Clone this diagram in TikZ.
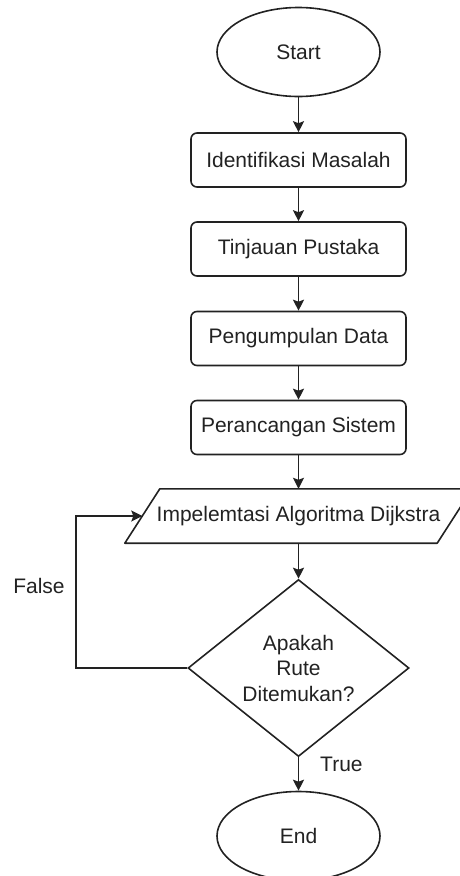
\documentclass[tikz,border=0pt]{standalone}
\usepackage{fontspec}
\setmainfont{Liberation Sans}
\usetikzlibrary{shapes.geometric,arrows.meta,calc}
\definecolor{ink}{RGB}{34,34,34}
\tikzset{
  base/.style={draw=ink, line width=1.6pt, text=ink, font=\fontsize{21}{25.5}\selectfont, inner sep=0pt, align=center},
  term/.style={base, ellipse, minimum width=163pt, minimum height=89pt},
  proc/.style={base, rectangle, rounded corners=6pt, minimum width=215pt, minimum height=54pt},
  dec/.style={base, diamond, aspect=1.25, minimum width=221pt, minimum height=177pt},
  lbl/.style={text=ink, font=\fontsize{21}{25.5}\selectfont, inner sep=0pt},
  conn/.style={draw=ink, line width=1.6pt, -{Stealth[length=11pt,width=11pt,inset=2pt]}},
}
\begin{document}
\begin{tikzpicture}[x=1pt,y=-1pt]
\useasboundingbox (0,0) rectangle (460,876);
\node[term] (start) at (298.5,52) {Start};
\node[proc] (p1) at (298.5,160) {Identifikasi Masalah};
\node[proc] (p2) at (298.5,249) {Tinjauan Pustaka};
\node[proc] (p3) at (298.5,338.5) {Pengumpulan Data};
\node[proc] (p4) at (298.5,427.5) {Perancangan Sistem};
\node[lbl, minimum width=312pt, minimum height=54pt] (impl) at (298.5,516) {Impelemtasi Algoritma Dijkstra};
\draw[draw=ink, line width=1.6pt, line join=round]
  ($(impl.south west)+(-17.5,0)$) -- ($(impl.north west)+(17.5,0)$) --
  ($(impl.north east)+(17.5,0)$) -- ($(impl.south east)+(-17.5,0)$) -- cycle;
\node[dec] (d) at (298.5,668) {Apakah\\Rute\\Ditemukan?};
\node[term] (end) at (298.5,836) {End};
\coordinate (lx) at (76,0);
\node[lbl] (false) at (39,586) {False};
\node[lbl, anchor=west] (true) at (320,764) {True};
\draw[conn] (start) -- (p1);
\draw[conn] (p1) -- (p2);
\draw[conn] (p2) -- (p3);
\draw[conn] (p3) -- (p4);
\draw[conn] (p4) -- (impl.north -| p4);
\draw[conn] (impl.south -| d) -- (d.north);
\draw[conn] (d.south) -- (end.north);
\draw[conn] (d.west) -- (d.west -| lx) -- (impl.west -| lx) -- (impl.west);
\end{tikzpicture}
\end{document}
